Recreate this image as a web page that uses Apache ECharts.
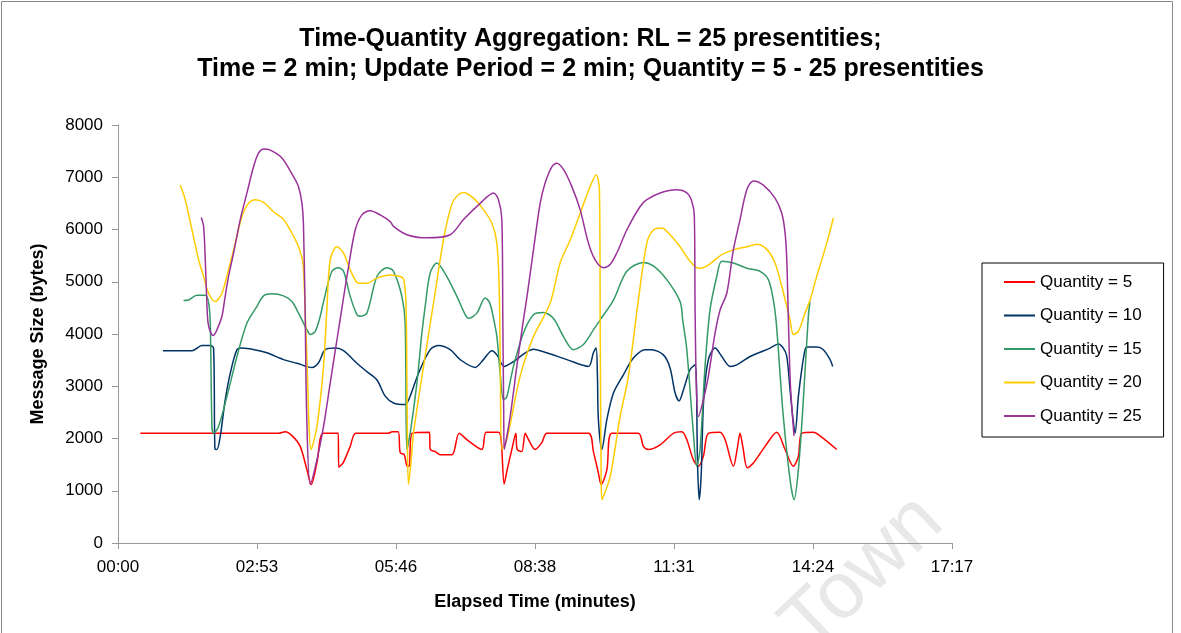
<!DOCTYPE html>
<html>
<head>
<meta charset="utf-8">
<script src="https://cdn.jsdelivr.net/npm/echarts@6/dist/echarts.min.js"></script>
<style>
  html, body { margin: 0; padding: 0; background: #fff; }
  #chart { width: 1181px; height: 633px; }
</style>
</head>
<body>
<div id="chart"></div>
<script>
// Elapsed time in seconds, message size in bytes
const quantity5 = [
  [27.7,2100],[199.2,2100],[207.9,2130],[216.6,2050],[226.5,1850],[234.9,1400],[240.2,1120],[247.3,1540],
  [255.1,2100],[273.8,2100],[274.4,1450],[280.0,1540],[288.7,1850],[295.8,2100],[335.9,2100],[340.9,2130],
  [348.3,2130],[350.8,1730],[355.8,1690],[359.5,1470],[362.0,1470],[365.4,2100],[387.2,2120],[388.1,1790],
  [394.3,1750],[400.5,1690],[415.1,1690],[424.1,2100],[433.7,1980],[452.3,1790],[457.7,2120],[473.0,2120],
  [476.3,1980],[480.1,1130],[483.8,1400],[489.6,1790],[494.6,2100],[496.2,1790],[502.0,1750],[506.2,2100],
  [510.3,1980],[518.6,1790],[526.9,1920],[533.1,2100],[584.8,2100],[591.0,1750],[597.2,1340],[600.6,1120],
  [607.7,1400],[613.9,2100],[646.9,2100],[653.2,1850],[659.4,1790],[673.9,1880],[690.4,2100],[700.9,2130],
  [707.1,1980],[715.3,1590],[721.5,1470],[727.7,1660],[733.9,2100],[748.5,2120],[754.7,1980],[765.0,1470],
  [770.0,1820],[773.3,2100],[776.7,1850],[782.4,1440],[789.9,1530],[804.4,1850],[818.9,2120],[829.3,1790],
  [839.6,1470],[845.8,1660],[850.0,2100],[864.4,2120],[872.8,2050],[893.5,1790]
];
const quantity10 = [
  [55.9,3680],[92.0,3680],[104.4,3780],[114.7,3780],[118.8,3730],[120.5,1800],[123.0,1790],[127.1,2040],
  [133.3,2740],[139.6,3250],[147.9,3700],[154.1,3730],[172.7,3690],[185.2,3640],[205.8,3510],[222.4,3440],
  [241.1,3360],[249.3,3450],[257.6,3700],[270.0,3730],[280.4,3680],[297.0,3440],[309.4,3280],[321.9,3120],
  [332.2,2810],[342.5,2680],[357.0,2650],[363.2,2810],[373.6,3250],[388.1,3700],[398.4,3780],[413.0,3700],
  [425.4,3510],[444.0,3360],[454.3,3510],[464.8,3680],[471.0,3600],[480.1,3380],[491.6,3470],[516.5,3710],
  [533.1,3640],[558.0,3510],[584.8,3380],[591.0,3640],[594.4,3730],[596.0,3200],[597.2,2360],[601.5,1790],
  [607.7,2360],[615.9,2870],[628.3,3220],[640.7,3540],[655.3,3700],[663.6,3700],[678.0,3600],[686.3,3350],
  [692.6,2870],[697.5,2720],[702.9,2930],[711.2,3320],[717.4,3410],[720.5,1500],[722.5,830],[725.0,1300],
  [728.0,2720],[733.9,3510],[742.3,3730],[750.6,3570],[760.9,3380],[769.2,3410],[785.8,3570],[798.2,3650],
  [810.6,3730],[820.9,3810],[827.1,3730],[831.4,3570],[835.5,2930],[838.8,2420],[841.7,2100],[845.8,2800],
  [850.0,3320],[854.1,3700],[856.2,3750],[868.6,3750],[876.9,3700],[885.2,3510],[888.5,3380]
];
const quantity15 = [
  [81.5,4640],[87.7,4650],[98.2,4740],[108.5,4740],[112.6,4600],[114.7,4200],[116.8,2230],[118.8,2100],
  [125.0,2230],[135.5,2810],[147.9,3570],[160.3,4210],[172.7,4530],[180.9,4730],[191.4,4770],[205.8,4730],
  [216.2,4620],[224.4,4400],[234.9,4080],[239.0,3990],[245.2,4050],[251.4,4340],[255.5,4620],[265.9,5200],
  [274.1,5270],[280.4,5200],[288.7,4720],[297.0,4370],[301.1,4340],[309.4,4400],[321.9,5100],[334.3,5270],
  [342.5,5200],[352.9,4720],[357.0,4200],[359.1,1790],[363.2,2100],[371.6,3060],[377.8,4020],[381.9,4530],
  [388.1,5170],[396.4,5360],[408.8,5100],[421.3,4720],[431.6,4370],[435.7,4300],[446.1,4400],[456.4,4690],
  [462.0,4600],[466.8,4300],[471.0,3950],[475.1,3250],[479.2,2740],[483.4,2800],[491.6,3380],[504.0,4020],
  [516.5,4370],[528.9,4410],[541.3,4300],[553.8,3950],[566.2,3700],[578.6,3800],[591.0,4080],[599.4,4270],
  [615.9,4650],[632.5,5200],[653.2,5370],[665.9,5300],[682.2,5040],[698.8,4620],[702.0,4270],[707.1,3700],
  [715.3,2100],[719.5,1470],[723.6,1790],[729.8,3380],[736.0,4460],[744.4,5100],[750.6,5390],[765.0,5360],
  [781.7,5260],[798.2,5200],[808.5,5040],[814.7,4650],[818.0,4270],[820.9,3700],[827.1,2420],[835.5,1210],
  [840.4,830],[845.8,1400],[852.0,2740],[858.2,4340],[860.3,4620]
];
const quantity20 = [
  [77.4,6850],[83.6,6570],[92.0,5990],[100.2,5420],[106.4,5100],[112.6,4780],[120.9,4620],[129.2,4780],
  [137.4,5230],[145.8,5740],[154.1,6250],[162.3,6500],[170.6,6570],[180.9,6520],[193.4,6340],[205.8,6190],
  [216.2,5930],[224.4,5670],[229.9,5360],[232.5,4500],[234.5,3700],[240.2,1790],[247.3,2230],[255.5,3380],
  [259.6,4460],[263.8,5420],[272.2,5670],[280.4,5550],[288.7,5230],[299.0,4970],[309.4,4970],[321.9,5070],
  [338.4,5130],[350.8,5100],[355.0,5050],[358.0,4600],[359.5,2500],[361.0,1120],[364.0,1500],[367.3,2100],
  [379.8,3380],[392.2,4590],[404.6,5800],[413.0,6380],[419.2,6600],[429.5,6710],[441.9,6600],[454.3,6380],
  [464.8,6120],[471.0,5740],[474.0,4800],[475.5,3000],[477.2,1790],[483.4,1980],[499.9,3190],[516.5,3950],
  [537.2,4590],[549.6,5360],[562.1,5800],[574.5,6310],[586.9,6820],[594.4,7050],[598.5,6760],[599.5,4000],
  [600.5,1500],[601.5,830],[611.8,1270],[624.2,2420],[634.5,3190],[646.9,4650],[657.4,5740],[665.6,5990],
  [676.0,6030],[686.3,5900],[698.8,5670],[711.2,5390],[721.5,5260],[732.0,5300],[750.6,5520],[765.0,5610],
  [781.7,5670],[794.1,5720],[806.5,5620],[816.8,5360],[825.2,4910],[831.4,4530],[835.5,4270],[839.6,3990],
  [845.8,4050],[854.1,4400],[860.3,4650],[868.6,5100],[881.1,5740],[889.3,6220]
];
const quantity25 = [
  [103.5,6230],[106.4,6060],[108.5,5420],[110.6,4530],[112.0,4210],[114.7,4050],[118.1,3970],[123.0,4080],
  [129.2,4340],[132.5,4650],[137.4,5100],[143.7,5550],[152.0,6190],[160.3,6700],[168.5,7200],[174.7,7460],
  [180.9,7540],[189.3,7520],[203.8,7370],[218.2,7010],[224.4,6820],[228.7,6500],[230.6,6060],[232.8,4270],
  [234.5,2500],[239.0,1120],[247.3,1590],[255.5,2230],[263.8,3060],[272.2,3890],[278.4,4500],[286.6,5290],
  [294.9,5990],[303.2,6280],[313.5,6360],[326.0,6280],[338.4,6150],[342.5,6060],[359.1,5900],[384.0,5840],
  [413.0,5900],[429.5,6190],[450.2,6500],[466.8,6700],[473.0,6570],[477.2,6190],[478.4,4270],[479.5,2500],
  [480.1,1790],[487.5,2420],[495.8,3380],[504.0,4270],[508.3,4700],[516.5,5610],[524.8,6500],[531.0,6890],
  [539.3,7200],[545.5,7270],[553.8,7150],[564.2,6820],[574.5,6380],[584.8,5740],[593.1,5420],[603.5,5270],
  [611.8,5330],[620.1,5550],[632.5,5990],[649.1,6440],[657.4,6570],[673.9,6700],[694.7,6760],[707.1,6700],
  [713.3,6540],[716.5,6250],[717.4,4500],[719.0,3000],[721.5,2420],[727.7,2740],[733.9,3190],[742.3,4020],
  [748.5,4460],[756.8,4780],[765.0,5610],[773.3,6190],[781.7,6760],[789.9,6930],[802.3,6850],[816.8,6600],
  [825.2,6310],[829.3,5930],[831.4,5420],[833.4,4270],[836.0,3000],[840.4,2050]
];

const seriesNames = ['Quantity = 5', 'Quantity = 10', 'Quantity = 15', 'Quantity = 20', 'Quantity = 25'];
const seriesColors = ['#FF0000', '#003366', '#339966', '#FFCC00', '#993399'];
const timeTickLabels = ['00:00', '02:53', '05:46', '08:38', '11:31', '14:24', '17:17'];
const TICK_STEP = 172.8; // seconds between time ticks

const seriesData = [quantity5, quantity10, quantity15, quantity20, quantity25];
const font = 'Liberation Sans, Arial, sans-serif';

const chart = echarts.init(document.getElementById('chart'), null, { renderer: 'canvas' });
chart.setOption({
  backgroundColor: '#fff',
  animation: false,
  title: {
    text: 'Time-Quantity Aggregation: RL = 25 presentities;\nTime = 2 min; Update Period = 2 min; Quantity = 5 - 25 presentities',
    left: 'center',
    top: 19,
    textStyle: { fontFamily: font, fontSize: 25, fontWeight: 'bold', color: '#000', lineHeight: 30 }
  },
  grid: { left: 118, right: 229, top: 125, bottom: 90, containLabel: false },
  legend: {
    orient: 'vertical',
    left: 982,
    top: 263,
    padding: [9, 22, 11, 22],
    itemWidth: 31,
    itemHeight: 2,
    itemGap: 13.5,
    icon: 'rect',
    borderColor: '#000',
    borderWidth: 1,
    backgroundColor: '#fff',
    textStyle: { fontFamily: font, fontSize: 17, color: '#000', lineHeight: 20 },
    data: seriesNames
  },
  xAxis: {
    type: 'value',
    min: 0,
    max: TICK_STEP * 6,
    interval: TICK_STEP,
    name: 'Elapsed Time (minutes)',
    nameLocation: 'middle',
    nameGap: 50,
    nameTextStyle: { fontFamily: font, fontSize: 18, fontWeight: 'bold', color: '#000' },
    axisLine: { lineStyle: { color: '#999', width: 1 } },
    axisTick: { show: true, length: 6, lineStyle: { color: '#999' } },
    splitLine: { show: false },
    axisLabel: {
      fontFamily: font, fontSize: 17, color: '#000', margin: 16,
      showMinLabel: true, showMaxLabel: true,
      formatter: v => timeTickLabels[Math.round(v / TICK_STEP)] ?? ''
    }
  },
  yAxis: {
    type: 'value',
    min: 0,
    max: 8000,
    interval: 1000,
    name: 'Message Size (bytes)',
    nameLocation: 'middle',
    nameGap: 71,
    nameTextStyle: { fontFamily: font, fontSize: 18, fontWeight: 'bold', color: '#000' },
    axisLine: { show: true, lineStyle: { color: '#999', width: 1 } },
    axisTick: { show: true, length: 6, lineStyle: { color: '#999' } },
    splitLine: { show: false },
    axisLabel: { fontFamily: font, fontSize: 17, color: '#000', margin: 15, formatter: v => String(v) }
  },
  graphic: [
    {
      // faint diagonal watermark in the lower right
      type: 'text',
      x: 823,
      y: 667,
      rotation: 0.76,
      z: -10,
      silent: true,
      style: {
        text: 'Town',
        font: '80px Liberation Sans, Arial, sans-serif',
        fill: '#e8e8e8',
        textAlign: 'left',
        textVerticalAlign: 'bottom'
      }
    },
    {
      type: 'rect',
      shape: { x: 1.5, y: 1.5, width: 1171, height: 640 },
      style: { fill: 'none', stroke: '#888', lineWidth: 1 },
      silent: true
    }
  ],
  series: seriesData.map((data, i) => ({
    name: seriesNames[i],
    type: 'line',
    data: data,
    smooth: 0.3,
    showSymbol: false,
    symbol: 'none',
    color: seriesColors[i],
    lineStyle: { color: seriesColors[i], width: 1.5 }
  }))
});
</script>
</body>
</html>
